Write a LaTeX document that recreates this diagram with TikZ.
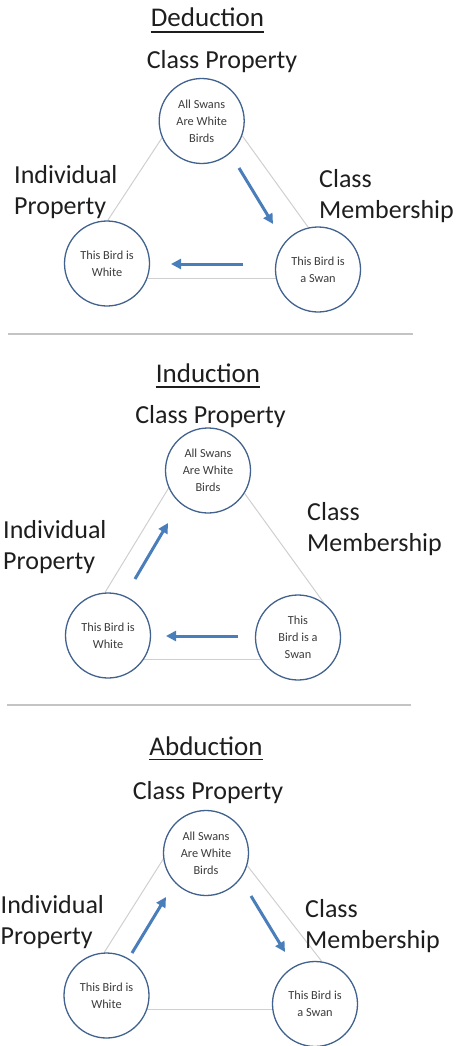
\documentclass[tikz,border=0pt]{standalone}
\usepackage{fontspec}
\setmainfont{Carlito}
\usetikzlibrary{arrows.meta,backgrounds}
\definecolor{ringc}{HTML}{41628E}
\definecolor{arrowc}{HTML}{4A7EBB}
\definecolor{edgec}{HTML}{CFCFCF}
\definecolor{sepc}{HTML}{C4C4C4}
\definecolor{txtc}{HTML}{1E1E1E}
\definecolor{smallc}{HTML}{3C3C3C}
\begin{document}
\begin{tikzpicture}[x=1pt,y=-1pt,
  ring/.style={circle,draw=ringc,line width=1.3pt,fill=white,minimum size=85pt,inner sep=0pt,align=center,text=smallc,font=\fontsize{12.3}{17}\selectfont},
  bigtext/.style={inner sep=0pt,text=txtc,font=\fontsize{26}{31.5}\selectfont},
  titletext/.style={inner sep=0pt,text=txtc,font=\fontsize{27}{32}\selectfont,anchor=base},
  ul/.style={line width=1.4pt,draw=txtc},
  edgeline/.style={draw=edgec,line width=1pt},
  flow/.style={draw=arrowc,line width=3pt,-{Triangle[length=10pt,width=10pt]}},
  sepline/.style={draw=sepc,line width=2pt}]
\useasboundingbox (0,0) rectangle (459,1046);

% ---------------- Deduction ----------------
\node[titletext] (t1) at (207.5,27) {Deduction};
\draw[ul] ([yshift=-5pt]t1.base west) -- ([yshift=-5pt]t1.base east);
\node[bigtext,anchor=base] (cp1) at (222,69) {Class Property};
\node[bigtext,anchor=base west] (ip1) at (14,183) {\vtop{\hbox{Individual}\hbox{Property}}};
\node[bigtext,anchor=base west] (cm1) at (319,187) {\vtop{\hbox{Class}\hbox{Membership}}};
\node[ring] (T1) at (201.7,121) {All Swans\\Are White\\Birds};
\node[ring] (L1) at (107,263.5) {This Bird is\\White};
\node[ring] (R1) at (318,269.5) {This Bird is\\a Swan};
\begin{pgfonlayer}{background}
  \draw[edgeline] (T1.203) -- (L1.89);
  \draw[edgeline] (T1.340) -- (R1.103);
  \draw[edgeline] (L1.340) -- (L1.340 -| R1.center);
\end{pgfonlayer}
\coordinate (a1s) at (239,168); \coordinate (a1e) at (273,224);
\coordinate (a2s) at (243,264); \coordinate (a2e) at (171,264);
\draw[flow] (a1s) -- (a1e);
\draw[flow] (a2s) -- (a2e);

\coordinate (s1a) at (8,334); \coordinate (s1b) at (413,334);
\draw[sepline] (s1a) -- (s1b);

% ---------------- Induction ----------------
\node[titletext] (t2) at (208,382) {Induction};
\draw[ul] ([yshift=-5pt]t2.base west) -- ([yshift=-5pt]t2.base east);
\node[bigtext,anchor=base] (cp2) at (210.5,423) {Class Property};
\node[bigtext,anchor=base west] (ip2) at (3,538) {\vtop{\hbox{Individual}\hbox{Property}}};
\node[bigtext,anchor=base west] (cm2) at (307,520) {\vtop{\hbox{Class}\hbox{Membership}}};
\node[ring] (T2) at (208,470.5) {All Swans\\Are White\\Birds};
\node[ring] (L2) at (108,635.5) {This Bird is\\White};
\node[ring] (R2) at (298,637.5) {This\\Bird is a\\Swan};
\begin{pgfonlayer}{background}
  \draw[edgeline] (T2.204) -- (L2.94);
  \draw[edgeline] (T2.328) -- (R2.53);
  \draw[edgeline] (L2.326) -- (L2.326 -| R2.center);
\end{pgfonlayer}
\coordinate (b1s) at (135,579); \coordinate (b1e) at (168,523);
\coordinate (b2s) at (238,636); \coordinate (b2e) at (166,636);
\draw[flow] (b1s) -- (b1e);
\draw[flow] (b2s) -- (b2e);

\coordinate (s2a) at (7,705); \coordinate (s2b) at (411,705);
\draw[sepline] (s2a) -- (s2b);

% ---------------- Abduction ----------------
\node[titletext] (t3) at (206,755) {Abduction};
\draw[ul] ([yshift=-4.5pt]t3.base west) -- ([yshift=-4.5pt]t3.base east);
\node[bigtext,anchor=base] (cp3) at (208,799) {Class Property};
\node[bigtext,anchor=base west] (ip3) at (0.5,913) {\vtop{\hbox{Individual}\hbox{Property}}};
\node[bigtext,anchor=base west] (cm3) at (305,917) {\vtop{\hbox{Class}\hbox{Membership}}};
\node[ring] (T3) at (206,853) {All Swans\\Are White\\Birds};
\node[ring] (L3) at (106.5,995.5) {This Bird is\\White};
\node[ring] (R3) at (315,1004) {This Bird is\\a Swan};
\begin{pgfonlayer}{background}
  \draw[edgeline] (T3.188) -- (L3.93);
  \draw[edgeline] (T3.343) -- (R3.81);
  \draw[edgeline] (L3.341) -- (L3.341 -| R3.center);
\end{pgfonlayer}
\coordinate (c1s) at (132,953); \coordinate (c1e) at (166,897);
\coordinate (c2s) at (251,896); \coordinate (c2e) at (285,952);
\draw[flow] (c1s) -- (c1e);
\draw[flow] (c2s) -- (c2e);
\end{tikzpicture}
\end{document}
